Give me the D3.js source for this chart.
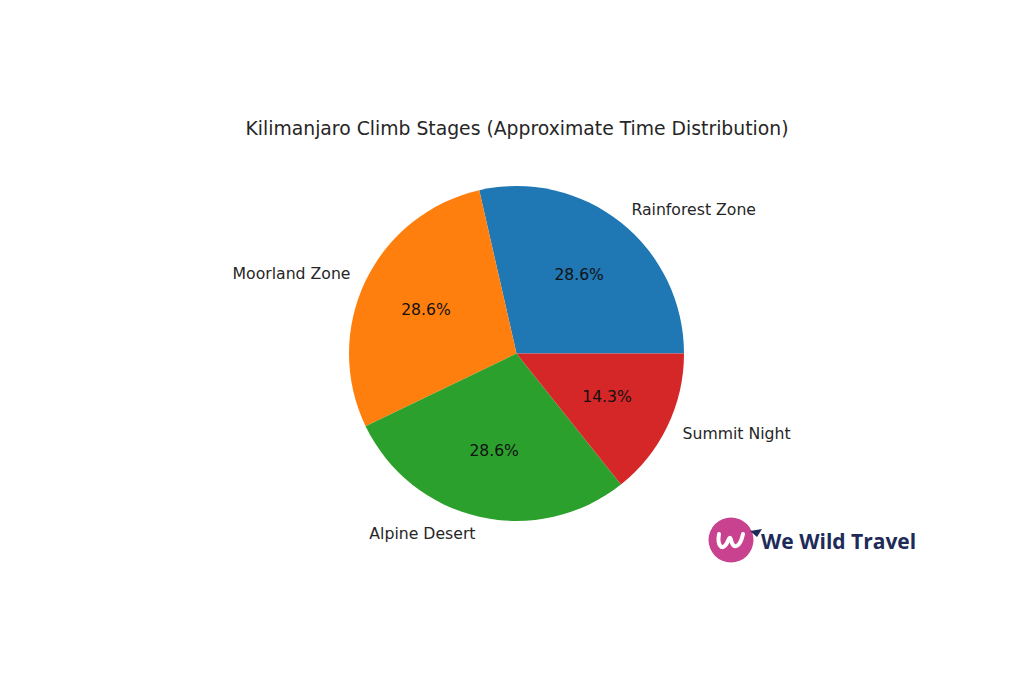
<!DOCTYPE html>
<html><head><meta charset="utf-8">
<script src="https://cdn.jsdelivr.net/npm/d3@7"></script>
<style>body{margin:0;background:#fff}svg{display:block}</style>
</head><body>
<svg id="c" width="1024" height="682"></svg>
<script>
const categories = ["Rainforest Zone", "Moorland Zone", "Alpine Desert", "Summit Night"];
const values = [2, 2, 2, 1];
const colors = ["#1f77b4", "#ff7f0e", "#2ca02c", "#d62728"];
const title = "Kilimanjaro Climb Stages (Approximate Time Distribution)";

const svg = d3.select("#c");
const cx = 516.5, cy = 353.5, R = 167.5;
const font = "DejaVu Sans, sans-serif";

svg.append("text").attr("x", 517).attr("y", 135).attr("text-anchor", "middle")
  .attr("font-family", font).attr("font-size", 18.8).attr("fill", "#262626").text(title);

// matplotlib: start at 3 o'clock, counterclockwise
const pie = d3.pie().sort(null).value(d => d)
  .startAngle(Math.PI / 2).endAngle(Math.PI / 2 - 2 * Math.PI);
const arcs = pie(values);
const arc = d3.arc().innerRadius(0).outerRadius(R);
const g = svg.append("g").attr("transform", `translate(${cx},${cy})`);
g.selectAll("path").data(arcs).enter().append("path")
  .attr("d", arc).attr("fill", (d, i) => colors[i]);

const total = d3.sum(values);
function pos(d, r) {
  const a = (d.startAngle + d.endAngle) / 2;
  return [r * Math.sin(a), -r * Math.cos(a)];
}
g.selectAll("text.pct").data(arcs).enter().append("text")
  .attr("x", d => pos(d, R * 0.6)[0]).attr("y", d => pos(d, R * 0.6)[1])
  .attr("text-anchor", "middle").attr("dominant-baseline", "central")
  .attr("font-family", font).attr("font-size", 15.6).attr("fill", "#111")
  .text(d => (d.value / total * 100).toFixed(1) + "%");
g.selectAll("text.lab").data(arcs).enter().append("text")
  .attr("x", d => pos(d, R * 1.1)[0]).attr("y", d => pos(d, R * 1.1)[1])
  .attr("text-anchor", d => pos(d, 1)[0] >= 0 ? "start" : "end")
  .attr("dominant-baseline", "central")
  .attr("font-family", font).attr("font-size", 15.7).attr("fill", "#262626")
  .text((d, i) => categories[i]);

// logo
const lg = svg.append("g");
lg.append("circle").attr("cx", 731).attr("cy", 540).attr("r", 22.5).attr("fill", "#c8428f");
lg.append("path").attr("d", "M719,534 C717,545 722,552 727,543 C729,538 730,536 731,540 C733,550 740,548 743,534")
  .attr("fill", "none").attr("stroke", "#fff").attr("stroke-width", 4).attr("stroke-linecap", "round");
lg.append("path").attr("d", "M750,531 L762,529 L757,537 Z").attr("fill", "#1e2b58");
lg.append("text").attr("x", 761).attr("y", 549).attr("font-family", "Open Sans, sans-serif")
  .attr("font-weight", "bold").attr("font-size", 21).attr("fill", "#1e2b58").text("We Wild Travel");
</script>
</body></html>
